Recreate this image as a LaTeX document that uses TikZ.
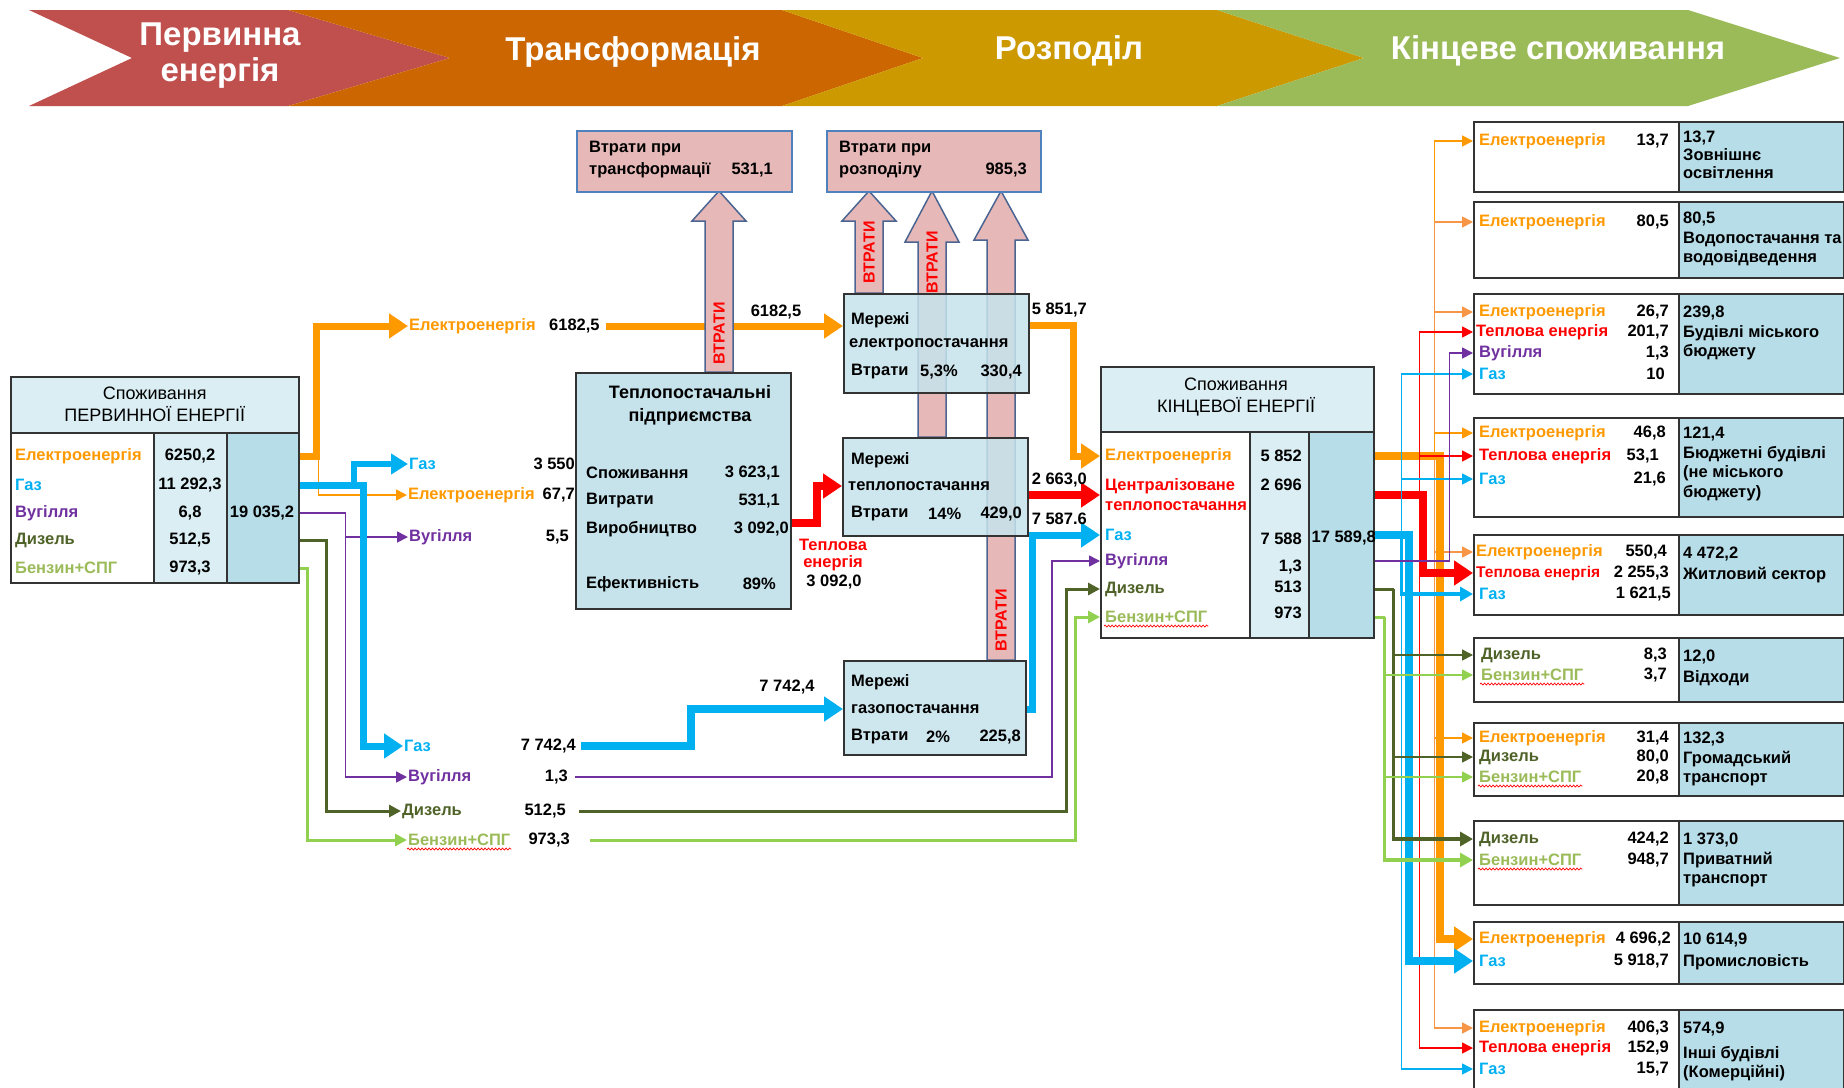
\documentclass[tikz,border=0pt]{standalone}
\usepackage{fontspec}
\setmainfont{Liberation Sans}
\usetikzlibrary{arrows.meta,decorations.pathmorphing}

\definecolor{banRed}{RGB}{192,80,77}
\definecolor{banOrange}{RGB}{204,102,0}
\definecolor{banGold}{RGB}{204,153,0}
\definecolor{banGreen}{RGB}{155,187,89}
\definecolor{elec}{RGB}{255,153,0}
\definecolor{elecLt}{RGB}{247,150,70}
\definecolor{gas}{RGB}{0,176,240}
\definecolor{coal}{RGB}{112,48,160}
\definecolor{dsl}{RGB}{79,98,40}
\definecolor{pet}{RGB}{146,208,80}
\definecolor{petTxt}{RGB}{155,187,89}
\definecolor{heat}{RGB}{255,0,0}
\definecolor{hdrFill}{RGB}{218,238,243}
\definecolor{totFill}{RGB}{183,221,232}
\definecolor{netFill}{RGB}{198,227,236}
\definecolor{lossFill}{RGB}{230,185,184}
\definecolor{lossLine}{RGB}{79,129,189}
\definecolor{arrLine}{RGB}{75,100,145}

\tikzset{
  ban/.style={font=\fontsize{33}{36}\selectfont\bfseries, text=white, inner sep=0pt},
  lbl/.style={font=\fontsize{16.5}{20}\selectfont\bfseries, inner sep=1pt, anchor=west},
  val/.style={font=\fontsize{16.5}{20}\selectfont\bfseries, inner sep=1pt, anchor=east},
  num/.style={font=\fontsize{16.5}{20}\selectfont\bfseries, inner sep=1pt},
  hdr/.style={font=\fontsize{18}{22}\selectfont, align=center, inner sep=0pt},
  sidetxt/.style={font=\fontsize{16.5}{19.5}\selectfont\bfseries, align=left, inner sep=0pt, anchor=north west},
  cell/.style={draw=black!80, line width=1.5pt, inner sep=0pt, anchor=north west},
  netbox/.style={cell, fill=netFill, fill opacity=0.85},
  lossbox/.style={cell, draw=lossLine, fill=lossFill},
  lossarrow/.style={draw=arrLine, line width=1.5pt, fill=lossFill},
  vtr/.style={font=\fontsize{16}{16}\selectfont\bfseries, text=heat, rotate=90, inner sep=0pt},
  fatline/.style={line width=8pt, -{Triangle[length=19pt,width=24pt]}},
  wideline/.style={line width=6pt, -{Triangle[length=17pt,width=20pt]}},
  midline/.style={line width=3.5pt, -{Triangle[length=13pt,width=14pt]}},
  slimline/.style={line width=1.6pt, -{Triangle[length=11pt,width=11pt]}},
  squiggle/.style={heat, line width=0.7pt, decorate, decoration={snake, amplitude=1pt, segment length=3.5pt}}
}
\newcommand\lossup[3]{\filldraw[lossarrow] (#1-14,#2) -- (#1-14,#3) -- (#1-27,#3) -- (#1,191) -- (#1+27,#3) -- (#1+14,#3) -- (#1+14,#2) -- cycle;}

\begin{document}
\begin{tikzpicture}[x=1pt,y=-1pt]
\clip (0,0) rectangle (1844,1087);

\fill[banRed] (29,10) -- (288,10) -- (450,58) -- (288,106) -- (29,106) -- (132,58) -- cycle;
\fill[banOrange] (288,10) -- (782,10) -- (923,58) -- (782,106) -- (288,106) -- (450,58) -- cycle;
\fill[banGold] (782,10) -- (1217,10) -- (1364,58) -- (1217,106) -- (782,106) -- (923,58) -- cycle;
\fill[banGreen] (1217,10) -- (1688,10) -- (1840,58) -- (1688,106) -- (1217,106) -- (1364,58) -- cycle;
\node[ban, align=center] (st1) at (220,56) {Первинна\\енергія};
\node[ban] (st2) at (633,52) {Трансформація};
\node[ban] (st3) at (1069,51) {Розподіл};
\node[ban] (st4) at (1558,51) {Кінцеве споживання};

\node[cell, fill=hdrFill, minimum width=288, minimum height=56] (peH) at (10,376) {};
\node[hdr] (peHt) at (peH) {Споживання\\ПЕРВИННОЇ ЕНЕРГІЇ};
\node[cell, fill=white, minimum width=143, minimum height=150] (peL) at (10,432) {};
\node[cell, fill=hdrFill, minimum width=73, minimum height=150] (peV) at (153,432) {};
\node[cell, fill=totFill, minimum width=72, minimum height=150] (peT) at (226,432) {};
\node[lbl, text=elec] (peEl) at (14,456) {Електроенергія};
\node[lbl, text=gas] (peGas) at (14,485) {Газ};
\node[lbl, text=coal] (peCoal) at (14,513) {Вугілля};
\node[lbl, text=dsl] (peDsl) at (14,540) {Дизель};
\node[lbl, text=petTxt] (pePet) at (14,568) {Бензин+СПГ};
\node[num] (peElv) at (190,456) {6250,2};
\node[num] (peGasv) at (190,485) {11 292,3};
\node[num] (peCoalv) at (190,513) {6,8};
\node[num] (peDslv) at (190,540) {512,5};
\node[num] (pePetv) at (190,568) {973,3};
\node[num] (peTot) at (262,513) {19 035,2};

\node[lbl, text=elec] (mEl1) at (408,326) {Електроенергія};
\node[lbl] (mEl1v) at (548,326) {6182,5};
\node[lbl, text=gas] (mGas1) at (408,464) {Газ};
\node[val] (mGas1v) at (576,464) {3 550};
\node[lbl, text=elec] (mEl2) at (407,495) {Електроенергія};
\node[val] (mEl2v) at (576,495) {67,7};
\node[lbl, text=coal] (mCoal1) at (408,537) {Вугілля};
\node[val] (mCoal1v) at (570,537) {5,5};
\node[lbl, text=gas] (mGas2) at (403,746) {Газ};
\node[val] (mGas2v) at (577,746) {7 742,4};
\node[lbl, text=coal] (mCoal2) at (407,777) {Вугілля};
\node[val] (mCoal2v) at (569,777) {1,3};
\node[lbl, text=dsl] (mDsl) at (401,811) {Дизель};
\node[val] (mDslv) at (567,811) {512,5};
\node[lbl, text=petTxt] (mPet) at (407,840) {Бензин+СПГ};
\node[val] (mPetv) at (571,840) {973,3};

\draw[elec, slimline] (peT.east |- peEl) -- ++(19,0) |- (mEl2.west);
\draw[elec, fatline, line width=7pt] (peT.east |- peEl) -- ++(17,0) |- (mEl1.west);
\draw[coal, slimline] (peT.east |- peCoal) -- ++(46,0) |- (mCoal1.west);
\draw[coal, slimline] (peT.east |- peCoal) -- ++(46,0) |- (mCoal2.west);
\draw[gas, wideline] (peT.east |- peGas) -- ++(54,0) |- (mGas1.west);
\draw[gas, fatline, line width=7pt] (peT.east |- peGas) -- ++(64,0) |- (mGas2.west);
\draw[dsl, line width=3pt, -{Triangle[length=12pt,width=12pt]}] (peT.east |- peDsl) -- ++(27,0) |- (mDsl.west);
\draw[pet, line width=3pt, -{Triangle[length=12pt,width=12pt]}] (peT.east |- pePet) -- ++(8,0) |- (mPet.west);

\coordinate (neIn) at (843,326);
\draw[elec, fatline, line width=7pt, shorten <=5pt] (mEl1v.east) -- (neIn);
\node[num] (n6182) at (776,312) {6182,5};

\lossup{719}{372}{221}
\lossup{869}{293}{221}
\lossup{932}{437}{242}
\lossup{1001}{660}{240}
\node[vtr] (w1) at (719,333) {ВТРАТИ};
\node[vtr] (w2) at (869,252) {ВТРАТИ};
\node[vtr] (w3) at (932,262) {ВТРАТИ};
\node[vtr] (w4) at (1001,620) {ВТРАТИ};

\node[cell, netbox, minimum width=185, minimum height=99] (ne) at (843,293) {};
\node[cell, netbox, minimum width=185, minimum height=98] (nh) at (842,437) {};
\node[cell, netbox, minimum width=182, minimum height=94] (ng) at (843,660) {};
\node[lbl] (neA) at (850,320) {Мережі};
\node[lbl] (neB) at (848,345) {електропостачання};
\node[lbl] (neC) at (850,372) {Втрати};
\node[lbl] (neD) at (919,372) {5,3\%};
\node[val] (neE) at (1023,372) {330,4};
\node[lbl] (nhA) at (850,460) {Мережі};
\node[lbl] (nhB) at (847,486) {теплопостачання};
\node[lbl] (nhC) at (850,514) {Втрати};
\node[lbl] (nhD) at (927,514) {14\%};
\node[val] (nhE) at (1023,514) {429,0};
\node[lbl] (ngA) at (850,682) {Мережі};
\node[lbl] (ngB) at (850,709) {газопостачання};
\node[lbl] (ngC) at (850,737) {Втрати};
\node[lbl] (ngD) at (925,737) {2\%};
\node[val] (ngE) at (1022,737) {225,8};

\node[lossbox, minimum width=215, minimum height=61] (lt) at (576,130) {};
\node[lbl] (ltA) at (588,149) {Втрати при};
\node[lbl] (ltB) at (588,170) {трансформації};
\node[val] (ltC) at (774,170) {531,1};
\node[lossbox, minimum width=214, minimum height=61] (ld) at (826,130) {};
\node[lbl] (ldA) at (838,149) {Втрати при};
\node[lbl] (ldB) at (838,170) {розподілу};
\node[val] (ldC) at (1028,170) {985,3};

\node[cell, fill=netFill, minimum width=215, minimum height=236] (te) at (575,372) {};
\node[num, font=\fontsize{18}{20}\selectfont\bfseries] (teH1) at (690,392) {Теплопостачальні};
\node[num, font=\fontsize{18}{20}\selectfont\bfseries] (teH2) at (690,417) {підприємства};
\node[lbl] (teA) at (585,473) {Споживання};
\node[val] (teAv) at (781,473) {3 623,1};
\node[lbl] (teB) at (585,501) {Витрати};
\node[val] (teBv) at (781,501) {531,1};
\node[lbl] (teC) at (585,529) {Виробництво};
\node[val] (teCv) at (790,529) {3 092,0};
\node[lbl] (teD) at (585,584) {Ефективність};
\node[val] (teDv) at (777,584) {89\%};

\draw[heat, fatline] ([yshift=6pt]te.east |- teC) -- ++(25,0) |- (nh.west |- nhB);
\node[num, text=heat, align=center, font=\fontsize{16.5}{17}\selectfont\bfseries] (hl) at (833,555) {Теплова\\енергія};
\node[num] (hlv) at (834,582) {3 092,0};

\draw[gas, fatline, shorten <=4pt] (mGas2v.east) -- ++(114,0) |- (ng.west |- ngB);
\node[num] (n7742) at (787,687) {7 742,4};

\node[cell, fill=hdrFill, minimum width=273, minimum height=65] (fcH) at (1100,366) {};
\node[hdr] (fcHt) at (1236,397) {Споживання\\КІНЦЕВОЇ ЕНЕРГІЇ};
\node[cell, fill=white, minimum width=149, minimum height=206] (fcL) at (1100,431) {};
\node[cell, fill=hdrFill, minimum width=59, minimum height=206] (fcV) at (1249,431) {};
\node[cell, fill=totFill, minimum width=65, minimum height=206] (fcT) at (1308,431) {};
\node[lbl, text=elec] (fcEl) at (1104,456) {Електроенергія};
\node[lbl, text=heat, align=left] (fcHeat) at (1104,495) {Централізоване\\теплопостачання};
\node[lbl, text=gas] (fcGas) at (1104,535) {Газ};
\node[lbl, text=coal] (fcCoal) at (1104,561) {Вугілля};
\node[lbl, text=dsl] (fcDsl) at (1104,589) {Дизель};
\node[lbl, text=petTxt] (fcPet) at (1104,617) {Бензин+СПГ};
\node[val] (fcElv) at (1303,456) {5 852};
\node[val] (fcHeatv) at (1303,485) {2 696};
\node[val] (fcGasv) at (1303,539) {7 588};
\node[val] (fcCoalv) at (1303,567) {1,3};
\node[val] (fcDslv) at (1303,587) {513};
\node[val] (fcPetv) at (1303,613) {973};
\node[val] (fcTot) at (1377,538) {17 589,8};

\draw[elec, fatline, line width=7pt] ([yshift=-5pt]ne.east |- neA) -- ++(44,0) |- (fcL.west |- fcEl);
\node[val] (n5851) at (1088,310) {5 851,7};
\draw[heat, fatline] (nh.east |- fcHeat) -- (fcL.west |- fcHeat);
\node[val] (n2663) at (1088,480) {2 663,0};
\draw[gas, fatline, line width=7pt] (ng.east |- ngB) -- ++(6,0) |- (fcL.west |- fcGas);
\node[val] (n7587) at (1088,519) {7 587.6};
\draw[coal, slimline, shorten <=6pt] (mCoal2v.east) -- ++(483,0) |- (fcL.west |- fcCoal);
\draw[dsl, line width=3pt, -{Triangle[length=12pt,width=12pt]}, shorten <=12pt] (mDslv.east) -- ++(499,0) |- (fcL.west |- fcDsl);
\draw[pet, line width=3pt, -{Triangle[length=12pt,width=12pt]}, shorten <=19pt] (mPetv.east) -- ++(504,0) |- (fcL.west |- fcPet);

\foreach \n/\t/\b in {1/121/191, 2/201/277, 3/293/393, 4/417/516, 5/534/614, 6/637/701, 7/722/795, 8/820/904, 9/921/983, 10/1009/1100}{
  \node[cell, fill=white, minimum width=205, minimum height=\b-\t] (b\n) at (1473,\t) {};
  \node[cell, fill=totFill, minimum width=165, minimum height=\b-\t] (c\n) at (1678,\t) {};
}

\node[lbl, text=elec] (r1e) at (1478,141) {Електроенергія};
\node[val] (r1ev) at (1670,141) {13,7};
\node[lbl, text=elec] (r2e) at (1478,222) {Електроенергія};
\node[val] (r2ev) at (1670,222) {80,5};
\node[lbl, text=elec] (r3e) at (1478,312) {Електроенергія};
\node[val] (r3ev) at (1670,312) {26,7};
\node[lbl, text=heat] (r3h) at (1475,332) {Теплова енергія};
\node[val] (r3hv) at (1670,332) {201,7};
\node[lbl, text=coal] (r3c) at (1478,353) {Вугілля};
\node[val] (r3cv) at (1670,353) {1,3};
\node[lbl, text=gas] (r3g) at (1478,374) {Газ};
\node[val] (r3gv) at (1666,374) {10};
\node[lbl, text=elec] (r4e) at (1478,433) {Електроенергія};
\node[val] (r4ev) at (1667,433) {46,8};
\node[lbl, text=heat] (r4h) at (1478,456) {Теплова енергія};
\node[val] (r4hv) at (1660,456) {53,1};
\node[lbl, text=gas] (r4g) at (1478,479) {Газ};
\node[val] (r4gv) at (1667,479) {21,6};
\node[lbl, text=elec] (r5e) at (1475,552) {Електроенергія};
\node[val] (r5ev) at (1668,552) {550,4};
\node[lbl, text=heat, font=\fontsize{15.5}{18}\selectfont\bfseries] (r5h) at (1475,573) {Теплова енергія};
\node[val] (r5hv) at (1670,573) {2 255,3};
\node[lbl, text=gas] (r5g) at (1478,594) {Газ};
\node[val] (r5gv) at (1672,594) {1 621,5};
\node[lbl, text=dsl] (r6d) at (1480,655) {Дизель};
\node[val] (r6dv) at (1668,655) {8,3};
\node[lbl, text=petTxt] (r6p) at (1480,675) {Бензин+СПГ};
\node[val] (r6pv) at (1668,675) {3,7};
\node[lbl, text=elec] (r7e) at (1478,738) {Електроенергія};
\node[val] (r7ev) at (1670,738) {31,4};
\node[lbl, text=dsl] (r7d) at (1478,757) {Дизель};
\node[val] (r7dv) at (1670,757) {80,0};
\node[lbl, text=petTxt] (r7p) at (1478,777) {Бензин+СПГ};
\node[val] (r7pv) at (1670,777) {20,8};
\node[lbl, text=dsl] (r8d) at (1478,839) {Дизель};
\node[val] (r8dv) at (1670,839) {424,2};
\node[lbl, text=petTxt] (r8p) at (1478,860) {Бензин+СПГ};
\node[val] (r8pv) at (1670,860) {948,7};
\node[lbl, text=elec] (r9e) at (1478,939) {Електроенергія};
\node[val] (r9ev) at (1672,939) {4 696,2};
\node[lbl, text=gas] (r9g) at (1478,961) {Газ};
\node[val] (r9gv) at (1670,961) {5 918,7};
\node[lbl, text=elec] (r10e) at (1478,1028) {Електроенергія};
\node[val] (r10ev) at (1670,1028) {406,3};
\node[lbl, text=heat] (r10h) at (1478,1048) {Теплова енергія};
\node[val] (r10hv) at (1670,1048) {152,9};
\node[lbl, text=gas] (r10g) at (1478,1069) {Газ};
\node[val] (r10gv) at (1670,1069) {15,7};

\node[sidetxt] (s1) at (1683,131) {13,7\\[-1.5pt]Зовнішнє\\[-1.5pt]освітлення};
\node[sidetxt] (s2) at (1683,212) {80,5\\Водопостачання та\\водовідведення};
\node[sidetxt] (s3) at (1683,306) {239,8\\Будівлі міського\\бюджету};
\node[sidetxt] (s4) at (1683,427) {121,4\\Бюджетні будівлі\\(не міського\\бюджету)};
\node[sidetxt] (s5) at (1683,547) {4 472,2\\[1.5pt]Житловий сектор};
\node[sidetxt] (s6) at (1683,650) {12,0\\[1.5pt]Відходи};
\node[sidetxt] (s7) at (1683,732) {132,3\\Громадський\\транспорт};
\node[sidetxt] (s8) at (1683,833) {1 373,0\\Приватний\\транспорт};
\node[sidetxt] (s9) at (1683,933) {10 614,9\\[2.5pt]Промисловість};
\node[sidetxt] (s10) at (1683,1022) {574,9\\[5pt]Інші будівлі\\(Комерційні)};

\path (fcT.east |- fcEl) ++(60,0) coordinate (eJ);
\path (fcT.east |- fcHeat) ++(45,0) coordinate (hJ);
\path (fcT.east |- fcGas) ++(27,0) coordinate (gJ);
\path (fcT.east |- fcDsl) ++(19,0) coordinate (dJ);
\path (fcT.east |- fcPet) ++(10,0) coordinate (pJ);

\foreach \r/\b/\c in {r1e/b1/elec, r2e/b2/elecLt, r3e/b3/elecLt, r4e/b4/elec, r5e/b5/elecLt, r7e/b7/elec, r10e/b10/elecLt}
  \draw[\c, slimline] (eJ) |- (\b.west |- \r);
\draw[elec, fatline] (fcT.east |- fcEl) -- ++(65,0) |- (b9.west |- r9e);
\draw[heat, fatline] (fcT.east |- fcHeat) -- ++(48,0) |- (b5.west |- r5h);
\foreach \r/\b in {r3h/b3, r4h/b4, r10h/b10}
  \draw[heat, slimline] (hJ) |- (\b.west |- \r);
\draw[gas, fatline] (fcT.east |- fcGas) -- ++(34,0) |- (b9.west |- r9g);
\foreach \r/\b in {r3g/b3, r4g/b4, r10g/b10}
  \draw[gas, slimline] (gJ) |- (\b.west |- \r);
\draw[gas, midline] (gJ) |- (b5.west |- r5g);
\draw[coal, slimline] (fcT.east |- fcCoal) -- ++(75,0) |- (b3.west |- r3c);
\draw[dsl, line width=3pt] (fcT.east |- fcDsl) -- (dJ);
\foreach \r/\b in {r6d/b6, r7d/b7}
  \draw[dsl, slimline] (dJ) |- (\b.west |- \r);
\draw[dsl, midline] (dJ) |- (b8.west |- r8d);
\draw[pet, line width=3pt] (fcT.east |- fcPet) -- (pJ);
\foreach \r/\b in {r6p/b6, r7p/b7}
  \draw[pet, slimline] (pJ) |- (\b.west |- \r);
\draw[pet, midline] (pJ) |- (b8.west |- r8p);

\foreach \n in {mPet, fcPet, r6p, r7p, r8p}
  \draw[squiggle] ([yshift=-2pt]\n.south west) -- ([yshift=-2pt]\n.south east);
\end{tikzpicture}
\end{document}
